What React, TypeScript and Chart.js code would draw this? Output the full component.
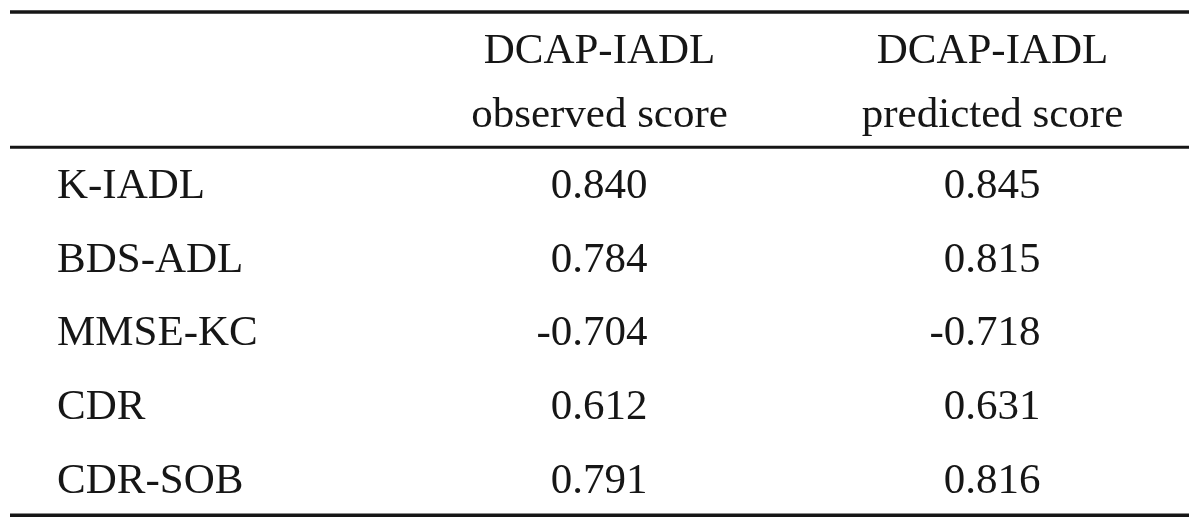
import React, { useEffect, useRef } from 'react';
import { Chart, registerables } from 'chart.js';

Chart.register(...registerables);

// ---- data ----
const columnKeys = ['stub', 'observed', 'predicted'];
const columnHeaderLine1 = ['', 'DCAP-IADL', 'DCAP-IADL'];
const columnHeaderLine2 = ['', 'observed score', 'predicted score'];
const rowLabels = ['K-IADL', 'BDS-ADL', 'MMSE-KC', 'CDR', 'CDR-SOB'];
const observedScores = [0.84, 0.784, -0.704, 0.612, 0.791];
const predictedScores = [0.845, 0.815, -0.718, 0.631, 0.816];
const valueColumns = [observedScores, predictedScores];

const FONT_SIZE = 43;
const FONT = `${FONT_SIZE}px "Liberation Serif", "Times New Roman", serif`;
const INK = '#161616';

const tablePlugin = {
  id: 'tablePlugin',
  afterDraw(chart: any) {
    const ctx: CanvasRenderingContext2D = chart.ctx;
    const xs = chart.scales.x;
    const ys = chart.scales.y;
    const area = chart.chartArea;
    const band = (area.right - area.left) / columnKeys.length;
    const rowBand = (area.bottom - area.top) / rowLabels.length;
    const capOffset = FONT_SIZE * 0.33;

    ctx.save();
    // rules
    ctx.strokeStyle = INK;
    const topRule = area.top - 135.3;
    ctx.lineWidth = 3.5;
    ctx.beginPath();
    ctx.moveTo(area.left, topRule);
    ctx.lineTo(area.right, topRule);
    ctx.stroke();
    ctx.lineWidth = 3;
    ctx.beginPath();
    ctx.moveTo(area.left, area.top);
    ctx.lineTo(area.right, area.top);
    ctx.stroke();
    ctx.lineWidth = 3.5;
    ctx.beginPath();
    ctx.moveTo(area.left, area.bottom);
    ctx.lineTo(area.right, area.bottom);
    ctx.stroke();

    ctx.fillStyle = INK;
    ctx.font = FONT;
    ctx.textBaseline = 'alphabetic';

    // header
    const headerMid = (topRule + area.top) / 2;
    const lineGap = 32;
    ctx.textAlign = 'center';
    for (let c = 1; c < columnKeys.length; c++) {
      const cx = xs.getPixelForValue(c);
      ctx.fillText(columnHeaderLine1[c], cx, headerMid - lineGap + capOffset + 1);
      ctx.fillText(columnHeaderLine2[c], cx, headerMid + lineGap + capOffset + 1);
    }

    // body
    rowLabels.forEach((label, r) => {
      const cy = ys.getPixelForValue(r) + capOffset;
      ctx.textAlign = 'left';
      ctx.fillText(label, xs.getPixelForValue(0) - band / 2 + 47, cy);
      ctx.textAlign = 'right';
      valueColumns.forEach((vals, k) => {
        const cx = xs.getPixelForValue(k + 1) + 48;
        ctx.fillText(vals[r].toFixed(3), cx, cy);
      });
    });
    void rowBand;
    ctx.restore();
  },
};

export default function App() {
  const ref = useRef<HTMLCanvasElement | null>(null);

  useEffect(() => {
    document.body.style.margin = '0';
    document.body.style.background = '#ffffff';
    const canvas = ref.current;
    if (!canvas) return;
    const chart = new Chart(canvas, {
      type: 'line',
      data: { labels: rowLabels, datasets: [] },
      options: {
        responsive: false,
        animation: false,
        devicePixelRatio: 1,
        layout: { padding: { left: 10, right: 11, top: 147.3, bottom: 11.7 } },
        plugins: { legend: { display: false }, tooltip: { enabled: false } },
        scales: {
          x: { type: 'category', labels: columnKeys, offset: true, display: false },
          y: { type: 'category', labels: rowLabels, offset: true, display: false },
        },
      },
      plugins: [tablePlugin],
    });
    return () => chart.destroy();
  }, []);

  return (
    <div style={{ width: 1200, height: 527, background: '#fff' }}>
      <canvas ref={ref} width={1200} height={527} style={{ display: 'block' }} />
    </div>
  );
}
